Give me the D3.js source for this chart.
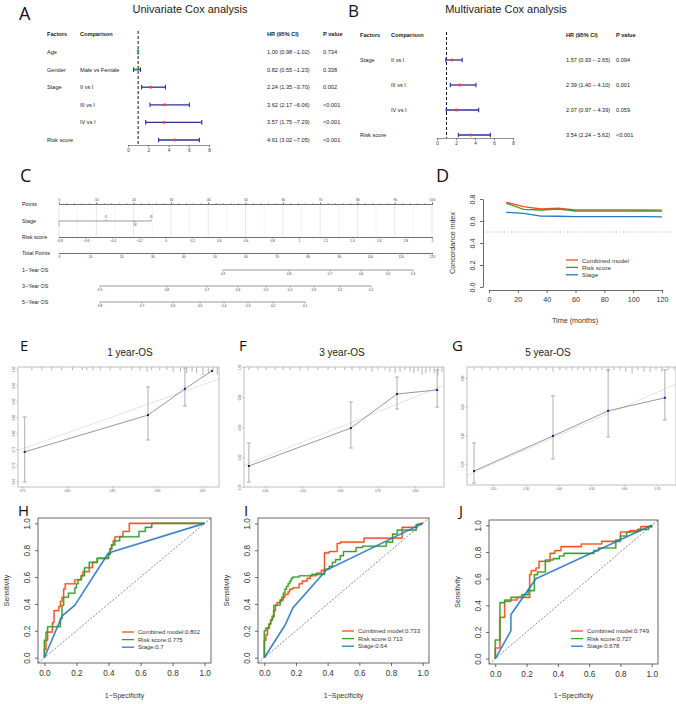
<!DOCTYPE html>
<html>
<head>
<meta charset="utf-8">
<script src="https://cdn.jsdelivr.net/npm/d3@7/dist/d3.min.js"></script>
<style>
html,body{margin:0;padding:0;background:#fff;}
svg{display:block;font-family:"Liberation Sans",Arial,Helvetica,sans-serif;}
</style>
</head>
<body>
<svg id="fig" width="676" height="704"></svg>
<script>
// ================= DATA =================
// Panel A: univariate Cox
const uniFactors = ["Age","Gender","Stage","","","Risk score"];
const uniComparisons = ["","Male vs Female","II vs I","III vs I","IV vs I",""];
const uniHR = [1.00,0.82,2.24,3.62,3.57,4.61];
const uniLower = [0.98,0.55,1.35,2.17,1.75,3.02];
const uniUpper = [1.02,1.23,3.70,6.06,7.29,7.05];
const uniP = ["0.734","0.338","0.002","<0.001","<0.001","<0.001"];
const uniGroup = ["clinical","clinical","other","other","other","other"];
// Panel B: multivariate Cox
const multiFactors = ["Stage","","","Risk score"];
const multiComparisons = ["II vs I","III vs I","IV vs I",""];
const multiHR = [1.57,2.39,2.07,3.54];
const multiLower = [0.93,1.40,0.97,2.24];
const multiUpper = [2.65,4.10,4.39,5.62];
const multiP = ["0.094","0.001","0.059","<0.001"];
const multiGroup = ["other","other","other","other"];
const forestTicks = [0,2,4,6,8];
// Panel C: nomogram
const nomoRows = ["Points","Stage","Risk score","Total Points","1\u2212Year OS","3\u2212Year OS","5\u2212Year OS"];
const pointTicks = [0,10,20,30,40,50,60,70,80,90,100];
const stageLevels = ["I","II","III","IV"];
const stagePoints = [0,12.6,24.7,20.4];
const riskTicks = [-0.8,-0.6,-0.4,-0.2,0,0.2,0.4,0.6,0.8,1,1.2,1.4,1.6,1.8,2];
const totalTicks = [0,10,20,30,40,50,60,70,80,90,100,110,120];
const os1Probs = [0.9,0.8,0.7,0.6,0.5,0.4];
const os1Total = [52.8,74.0,87.2,97.2,105.9,113.9];
const os3Probs = [0.9,0.8,0.7,0.6,0.5,0.4,0.3,0.2,0.1];
const os3Total = [13.2,34.7,47.6,57.6,66.6,74.3,82.0,90.4,100.4];
const os5Probs = [0.8,0.7,0.6,0.5,0.4,0.3,0.2,0.1];
const os5Total = [13.2,26.7,36.7,45.4,53.1,60.8,68.9,79.2];
// Panel D: time-dependent C-index
const cTimes = [12,24,36,48,60,72,84,96,108,120];
const cIdxCombined = [0.770,0.730,0.709,0.716,0.700,0.700,0.700,0.700,0.700,0.698];
const cIdxRisk = [0.761,0.706,0.700,0.708,0.691,0.690,0.690,0.690,0.692,0.690];
const cIdxStage = [0.679,0.670,0.645,0.643,0.639,0.639,0.639,0.639,0.639,0.638];
const dTicksX = [0,20,40,60,80,100,120];
const dTicksY = [0,0.2,0.4,0.6,0.8];
const modelNames = ["Combined model","Risk score","Stage"];
// Panels E-G: calibration
const cal1Pred = [0.753,0.890,0.931,0.961];
const cal1Obs  = [0.741,0.856,0.938,0.994];
const cal1Lo   = [0.647,0.778,0.884,0.994];
const cal1Hi   = [0.850,0.944,1.003,0.994];
const cal1Rug  = [0.761,0.772,0.783,0.794,0.806,0.817,0.822,0.829,0.837,0.848,0.859,0.872,0.881,0.889,0.894,0.903,0.911,0.918,0.926,0.933,0.939,0.944,0.951,0.957,0.962,0.967];
const cal1RugN = [1,1,1,1,1,1,1,1,1,1,1,1,1,2,1,1,1,2,2,3,2,3,4,3,2,4];
const cal1TicksX = [0.75,0.80,0.85,0.90,0.95];
const cal1TicksY = [0.65,0.70,0.75,0.80,0.85,0.90,0.95,1.00];
const cal3Pred = [0.357,0.629,0.752,0.859];
const cal3Obs  = [0.340,0.593,0.820,0.847];
const cal3Lo   = [0.233,0.460,0.720,0.733];
const cal3Hi   = [0.493,0.767,0.933,0.980];
const cal3Rug  = [0.357,0.381,0.403,0.427,0.448,0.467,0.493,0.515,0.541,0.568,0.587,0.613,0.632,0.653,0.669,0.685,0.701,0.720,0.733,0.747,0.760,0.773,0.787,0.797,0.808,0.819,0.829,0.840,0.851,0.861,0.872];
const cal3RugN = [1,1,1,1,1,1,1,1,1,1,1,1,1,1,1,2,1,1,2,3,2,1,2,3,2,4,3,2,3,4,2];
const cal3TicksX = [0.4,0.5,0.6,0.7,0.8];
const cal3TicksY = [0.2,0.4,0.6,0.8,1.0];
const cal5Pred = [0.142,0.383,0.551,0.724];
const cal5Obs  = [0.151,0.396,0.571,0.662];
const cal5Lo   = [0.067,0.235,0.389,0.508];
const cal5Hi   = [0.347,0.676,0.857,0.857];
const cal5Rug  = [0.142,0.166,0.191,0.215,0.240,0.264,0.288,0.313,0.337,0.362,0.383,0.404,0.423,0.441,0.459,0.477,0.496,0.514,0.532,0.551,0.569,0.587,0.605,0.624,0.642,0.660,0.679,0.697,0.715,0.734,0.752];
const cal5RugN = [1,1,1,1,1,1,1,1,1,1,2,1,1,1,1,1,2,1,1,2,1,1,2,3,1,2,2,1,2,1,1];
const cal5TicksX = [0.2,0.3,0.4,0.5,0.6,0.7];
const cal5TicksY = [0.2,0.4,0.6,0.8];
// Panels H-J: ROC curves (FPR, TPR vertices)
const rocTicks = [0,0.2,0.4,0.6,0.8,1.0];
const rocH_combined = [[0,0],[0,0.06],[0.01,0.06],[0.01,0.13],[0.02,0.13],[0.02,0.19],[0.05,0.19],[0.05,0.26],[0.06,0.26],[0.06,0.35],[0.09,0.35],[0.09,0.38],[0.10,0.38],[0.10,0.42],[0.11,0.42],[0.11,0.45],[0.12,0.45],[0.12,0.51],[0.13,0.51],[0.13,0.55],[0.19,0.55],[0.19,0.58],[0.23,0.58],[0.23,0.61],[0.24,0.61],[0.24,0.64],[0.28,0.64],[0.28,0.67],[0.30,0.67],[0.30,0.71],[0.33,0.71],[0.33,0.74],[0.40,0.74],[0.40,0.77],[0.41,0.77],[0.41,0.81],[0.42,0.81],[0.42,0.84],[0.43,0.84],[0.43,0.87],[0.44,0.87],[0.44,0.90],[0.49,0.90],[0.49,0.94],[0.53,0.94],[0.53,1],[1,1]];
const rocH_risk = [[0,0],[0,0.13],[0.01,0.13],[0.01,0.19],[0.02,0.19],[0.02,0.23],[0.10,0.23],[0.10,0.29],[0.11,0.29],[0.11,0.39],[0.12,0.39],[0.12,0.45],[0.15,0.45],[0.15,0.48],[0.19,0.48],[0.19,0.52],[0.20,0.52],[0.20,0.55],[0.21,0.55],[0.21,0.58],[0.23,0.58],[0.23,0.61],[0.25,0.61],[0.25,0.67],[0.28,0.67],[0.28,0.71],[0.33,0.71],[0.33,0.74],[0.40,0.74],[0.40,0.77],[0.41,0.77],[0.41,0.81],[0.42,0.81],[0.42,0.84],[0.44,0.84],[0.44,0.87],[0.47,0.87],[0.47,0.90],[0.59,0.90],[0.59,0.94],[0.63,0.94],[0.63,0.97],[0.67,0.97],[0.67,1],[1,1]];
const rocH_stage = [[0,0],[0.11,0.31],[0.19,0.39],[0.40,0.78],[1,1]];
const rocI_combined = [[0,0],[0,0.13],[0.01,0.13],[0.01,0.17],[0.02,0.17],[0.02,0.22],[0.03,0.22],[0.03,0.25],[0.04,0.25],[0.04,0.28],[0.05,0.28],[0.05,0.31],[0.06,0.31],[0.06,0.35],[0.07,0.35],[0.07,0.39],[0.08,0.39],[0.08,0.41],[0.10,0.41],[0.10,0.43],[0.12,0.43],[0.12,0.45],[0.13,0.45],[0.13,0.47],[0.15,0.47],[0.15,0.49],[0.16,0.49],[0.16,0.51],[0.18,0.51],[0.18,0.52],[0.22,0.52],[0.22,0.55],[0.24,0.55],[0.24,0.57],[0.27,0.57],[0.27,0.59],[0.29,0.59],[0.29,0.61],[0.33,0.61],[0.33,0.63],[0.36,0.63],[0.36,0.65],[0.38,0.65],[0.38,0.78],[0.41,0.78],[0.41,0.79],[0.46,0.79],[0.46,0.85],[0.48,0.85],[0.48,0.86],[0.63,0.86],[0.63,0.89],[0.87,0.89],[0.87,0.97],[0.96,0.97],[0.96,0.99],[1,1]];
const rocI_risk = [[0,0],[0,0.20],[0.01,0.20],[0.01,0.22],[0.03,0.22],[0.03,0.25],[0.04,0.25],[0.04,0.28],[0.05,0.28],[0.05,0.30],[0.06,0.30],[0.06,0.39],[0.10,0.39],[0.10,0.42],[0.11,0.42],[0.11,0.45],[0.12,0.45],[0.12,0.48],[0.13,0.48],[0.13,0.51],[0.14,0.51],[0.14,0.53],[0.15,0.53],[0.15,0.55],[0.16,0.55],[0.16,0.57],[0.17,0.57],[0.17,0.59],[0.18,0.59],[0.18,0.60],[0.22,0.60],[0.22,0.61],[0.30,0.61],[0.30,0.62],[0.38,0.62],[0.38,0.66],[0.41,0.66],[0.41,0.68],[0.43,0.68],[0.43,0.71],[0.45,0.71],[0.45,0.73],[0.48,0.73],[0.48,0.76],[0.50,0.76],[0.50,0.79],[0.58,0.79],[0.58,0.82],[0.62,0.82],[0.62,0.83],[0.77,0.83],[0.77,0.86],[0.81,0.86],[0.81,0.92],[0.84,0.92],[0.84,0.95],[0.96,0.95],[0.96,0.99],[1,1]];
const rocI_stage = [[0,0],[0.13,0.24],[0.18,0.37],[0.39,0.65],[1,1]];
const rocJ_combined = [[0,0],[0,0.08],[0.03,0.08],[0.03,0.31],[0.06,0.31],[0.06,0.43],[0.10,0.43],[0.10,0.44],[0.14,0.44],[0.14,0.46],[0.22,0.46],[0.22,0.63],[0.23,0.63],[0.23,0.66],[0.26,0.66],[0.26,0.68],[0.28,0.68],[0.28,0.73],[0.35,0.73],[0.35,0.79],[0.38,0.79],[0.38,0.81],[0.42,0.81],[0.42,0.84],[0.55,0.84],[0.55,0.86],[0.68,0.86],[0.68,0.88],[0.80,0.88],[0.80,0.95],[0.86,0.95],[0.86,0.96],[0.93,0.96],[0.93,0.99],[1,0.99],[1,1]];
const rocJ_risk = [[0,0],[0,0.14],[0.03,0.14],[0.03,0.42],[0.06,0.42],[0.06,0.44],[0.10,0.44],[0.10,0.46],[0.17,0.46],[0.17,0.48],[0.21,0.48],[0.21,0.51],[0.25,0.51],[0.25,0.63],[0.27,0.63],[0.27,0.65],[0.32,0.65],[0.32,0.74],[0.37,0.74],[0.37,0.75],[0.41,0.75],[0.41,0.77],[0.44,0.77],[0.44,0.79],[0.63,0.79],[0.63,0.81],[0.66,0.81],[0.66,0.83],[0.77,0.83],[0.77,0.89],[0.80,0.89],[0.80,0.92],[0.84,0.92],[0.84,0.95],[0.91,0.95],[0.91,0.97],[0.98,0.97],[0.98,0.99],[1,0.99],[1,1]];
const rocJ_stage = [[0,0],[0.10,0.21],[0.10,0.33],[0.26,0.60],[1,1]];
const aucH = ["0.802","0.775","0.7"];
const aucI = ["0.733","0.713","0.64"];
const aucJ = ["0.749","0.727","0.678"];

// ================= STYLE =================
const RED = "#F4511E", GREEN = "#3A9B2E", BLUE = "#2A78C2";
const lineColors = [RED, GREEN, BLUE];
const svg = d3.select("#fig");

function txt(g, x, y, s, opt = {}) {
  const t = g.append("text").attr("x", x).attr("y", y).text(s)
    .attr("font-size", opt.size || 6).attr("fill", opt.fill || "#222");
  if (opt.anchor) t.attr("text-anchor", opt.anchor);
  if (opt.weight) t.attr("font-weight", opt.weight);
  if (opt.mid) t.attr("dominant-baseline", "central");
  if (opt.family) t.attr("font-family", opt.family);
  return t;
}
function panelLabel(s, x, y, size) {
  txt(svg, x, y, s, {size: size, fill: "#111", family: "'Open Sans','Liberation Sans',sans-serif"});
}

// ================= A / B forest =================
function forest(o) {
  const g = svg.append("g");
  const x = d3.scaleLinear([0, 8], [o.x0, o.x1]);
  const y = d3.scaleLinear([0, o.hr.length - 1], [o.y0, o.y1]);
  const fs = 5.6;
  [[o.cF, "Factors"], [o.cC, "Comparison"], [o.cH, "HR (95% CI)"], [o.cP, "P value"]]
    .forEach(([cx, t]) => txt(g, cx, o.hy, t, {size: fs, weight: "bold", mid: true}));
  g.append("line").attr("x1", x(1)).attr("x2", x(1)).attr("y1", o.hy - 3).attr("y2", o.axY)
    .attr("stroke", "#111").attr("stroke-width", 1).attr("stroke-dasharray", "3,2");
  o.hr.forEach((h, i) => {
    const yy = y(i);
    txt(g, o.cF, yy, o.factors[i], {size: fs, mid: true});
    txt(g, o.cC, yy, o.comps[i], {size: fs, mid: true});
    txt(g, o.cH, yy, `${h.toFixed(2)} (${o.lo[i].toFixed(2)}${o.sep}${o.hi[i].toFixed(2)})`, {size: fs, mid: true});
    txt(g, o.cP, yy, o.p[i], {size: fs, mid: true});
    g.append("line").attr("x1", x(o.lo[i])).attr("x2", x(o.hi[i])).attr("y1", yy).attr("y2", yy)
      .attr("stroke", "#2B2F9E").attr("stroke-width", 1.3);
    [o.lo[i], o.hi[i]].forEach(v => g.append("line").attr("x1", x(v)).attr("x2", x(v))
      .attr("y1", yy - 2.3).attr("y2", yy + 2.3).attr("stroke", "#2B2F9E").attr("stroke-width", 1.1));
    g.append("rect").attr("x", x(h) - 1.3).attr("y", yy - 1.3).attr("width", 2.6).attr("height", 2.6)
      .attr("fill", o.grp[i] === "clinical" ? "#2FCB4A" : "#FF3B2A");
  });
  const ax = d3.axisBottom(x).tickValues(forestTicks).tickSize(2).tickSizeOuter(0).tickPadding(2);
  const ag = g.append("g").attr("transform", `translate(0,${o.axY})`).call(ax);
  ag.select(".domain").attr("stroke", "#777").attr("stroke-width", 0.8);
  ag.selectAll(".tick line").attr("stroke", "#777");
  ag.selectAll("text").attr("font-size", 4.6).attr("fill", "#333").attr("font-family", "inherit");
}
panelLabel("A", 19, 20, 18);
txt(svg, 190, 13, "Univariate Cox analysis", {size: 11, anchor: "middle", fill: "#222"});
forest({x0: 128, x1: 209, y0: 52, y1: 140, hy: 34, axY: 145, cF: 47, cC: 80, cH: 267, cP: 323,
  hr: uniHR, lo: uniLower, hi: uniUpper, p: uniP, factors: uniFactors, comps: uniComparisons, grp: uniGroup, sep: " \u2013"});
panelLabel("B", 348, 17, 17);
txt(svg, 506, 13, "Multivariate Cox analysis", {size: 11, anchor: "middle", fill: "#222"});
forest({x0: 437, x1: 513, y0: 60, y1: 135, hy: 35, axY: 138, cF: 360, cC: 391, cH: 566, cP: 616,
  hr: multiHR, lo: multiLower, hi: multiUpper, p: multiP, factors: multiFactors, comps: multiComparisons, grp: multiGroup, sep: " \u2013 "});

// ================= C nomogram =================
(function () {
  panelLabel("C", 20, 182, 18);
  const g = svg.append("g");
  const L = 59, R = 432;
  const xP = d3.scaleLinear([0, 100], [L, R]);
  const xRisk = d3.scaleLinear([-0.8, 2], [L, R]);
  const xTot = d3.scaleLinear([0, 120], [L, R]);
  const rowY = [204, 221, 237, 253, 270, 286, 302];
  nomoRows.forEach((r, i) => txt(g, 22, rowY[i] + (i === 0 ? 0 : 0), r, {size: 5.4, mid: true, fill: "#222"}));
  // grid lines
  d3.range(0, 101, 5).forEach(v => g.append("line").attr("x1", xP(v)).attr("x2", xP(v))
    .attr("y1", rowY[0]).attr("y2", rowY[2]).attr("stroke", v % 10 === 0 ? "#d6d6d6" : "#ececec").attr("stroke-width", 0.6));
  function styleAxis(ag) {
    ag.select(".domain").attr("stroke", "#555").attr("stroke-width", 0.6);
    ag.selectAll(".tick line").attr("stroke", "#555").attr("stroke-width", 0.5);
    ag.selectAll("text").attr("font-size", 3.2).attr("fill", "#333").attr("font-family", "inherit");
  }
  // Points
  let ag = g.append("g").attr("transform", `translate(0,${rowY[0]})`)
    .call(d3.axisTop(xP).tickValues(pointTicks).tickSize(2).tickSizeOuter(0).tickPadding(1.5));
  styleAxis(ag);
  ag = g.append("g").attr("transform", `translate(0,${rowY[0]})`)
    .call(d3.axisTop(xP).tickValues(d3.range(0, 101, 2)).tickSize(1).tickFormat(""));
  styleAxis(ag);
  // Stage
  const sy = rowY[1];
  g.append("line").attr("x1", xP(d3.min(stagePoints))).attr("x2", xP(d3.max(stagePoints)))
    .attr("y1", sy).attr("y2", sy).attr("stroke", "#555").attr("stroke-width", 0.6);
  stagePoints.forEach((p, i) => {
    const up = (i === 1 || i === 2);
    g.append("line").attr("x1", xP(p)).attr("x2", xP(p)).attr("y1", sy).attr("y2", up ? sy - 1.5 : sy + 1.5)
      .attr("stroke", "#555").attr("stroke-width", 0.5);
    txt(g, xP(p), up ? sy - 3 : sy + 5.2, stageLevels[i], {size: 3.4, anchor: "middle", fill: "#333"});
  });
  // Risk score
  ag = g.append("g").attr("transform", `translate(0,${rowY[2]})`)
    .call(d3.axisBottom(xRisk).tickValues(riskTicks).tickSize(1.5).tickSizeOuter(0).tickPadding(1.5).tickFormat(d => d3.format("")(+d.toFixed(1))));
  styleAxis(ag);
  ag = g.append("g").attr("transform", `translate(0,${rowY[2]})`)
    .call(d3.axisBottom(xRisk).tickValues(d3.range(-0.8, 2.001, 0.1)).tickSize(1).tickFormat(""));
  styleAxis(ag);
  // Total points
  ag = g.append("g").attr("transform", `translate(0,${rowY[3]})`)
    .call(d3.axisBottom(xTot).tickValues(totalTicks).tickSize(1.5).tickSizeOuter(0).tickPadding(1.5));
  styleAxis(ag);
  ag = g.append("g").attr("transform", `translate(0,${rowY[3]})`)
    .call(d3.axisBottom(xTot).tickValues(d3.range(0, 121, 2)).tickSize(1).tickFormat(""));
  styleAxis(ag);
  // OS rows
  [[os1Probs, os1Total], [os3Probs, os3Total], [os5Probs, os5Total]].forEach(([pr, tp], k) => {
    const yy = rowY[4 + k];
    g.append("line").attr("x1", xTot(d3.min(tp))).attr("x2", xTot(d3.max(tp))).attr("y1", yy).attr("y2", yy)
      .attr("stroke", "#555").attr("stroke-width", 0.6);
    tp.forEach((t, i) => {
      g.append("line").attr("x1", xTot(t)).attr("x2", xTot(t)).attr("y1", yy).attr("y2", yy + 1.5)
        .attr("stroke", "#555").attr("stroke-width", 0.5);
      txt(g, xTot(t), yy + 5.2, pr[i].toFixed(1), {size: 3.2, anchor: "middle", fill: "#333"});
    });
  });
})();

// ================= D C-index =================
(function () {
  panelLabel("D", 436, 182, 18);
  const g = svg.append("g");
  const x = d3.scaleLinear([0, 120], [489, 662]);
  const y = d3.scaleLinear([0, 0.8], [287, 199]);
  g.append("line").attr("x1", 483).attr("x2", 670).attr("y1", y(0.5)).attr("y2", y(0.5))
    .attr("stroke", "#aaa").attr("stroke-width", 1).attr("stroke-dasharray", "1,2.5");
  [cIdxCombined, cIdxRisk, cIdxStage].forEach((vals, k) => {
    const line = d3.line().x((d, i) => x(cTimes[i])).y(d => y(d));
    g.append("path").datum(vals).attr("d", line).attr("fill", "none")
      .attr("stroke", lineColors[k]).attr("stroke-width", 1.3);
  });
  const xa = g.append("g").attr("transform", "translate(0,290)")
    .call(d3.axisBottom(x).tickValues(dTicksX).tickSize(3).tickSizeOuter(0).tickPadding(4));
  const ya = g.append("g").attr("transform", "translate(483,0)")
    .call(d3.axisLeft(y).tickValues(dTicksY).tickSize(3).tickSizeOuter(0).tickFormat(d3.format(".1f")));
  [xa, ya].forEach(a => {
    a.select(".domain").attr("stroke", "#444").attr("stroke-width", 0.8);
    a.selectAll(".tick line").attr("stroke", "#444").attr("stroke-width", 0.8);
    a.selectAll("text").attr("font-size", 7.2).attr("fill", "#333").attr("font-family", "inherit");
  });
  ya.selectAll("text").attr("x", 0).attr("dy", 0).attr("text-anchor", "middle").attr("transform", "translate(-8,0) rotate(-90)");
  txt(g, 575, 323, "Time (months)", {size: 7.2, anchor: "middle", fill: "#333"});
  txt(g, 0, 0, "Concordance index", {size: 7.2, anchor: "middle", fill: "#333"}).attr("transform", "translate(455,243) rotate(-90)");
  modelNames.forEach((n, k) => {
    const ly = 260 + k * 7.4;
    g.append("line").attr("x1", 566).attr("x2", 578).attr("y1", ly).attr("y2", ly).attr("stroke", lineColors[k]).attr("stroke-width", 1.3);
    txt(g, 582, ly, n, {size: 6.2, mid: true, fill: "#333"});
  });
})();

// ================= E-G calibration =================
function calib(o) {
  const g = svg.append("g");
  panelLabel(o.label, o.lx, 351, 15);
  txt(g, o.tx, 356, o.title, {size: 10, anchor: "middle", fill: "#222"});
  const x = d3.scaleLinear(o.xd, o.xr), y = d3.scaleLinear(o.yd, o.yr);
  const F = o.frame;
  const cid = "clip" + o.label;
  g.append("clipPath").attr("id", cid).append("rect").attr("x", F.l).attr("y", F.t).attr("width", F.r - F.l).attr("height", F.b - F.t);
  const inner = g.append("g").attr("clip-path", `url(#${cid})`);
  const lo = Math.min(o.xd[0], o.yd[0]) - 1, hi = Math.max(o.xd[1], o.yd[1]) + 1;
  inner.append("line").attr("x1", x(lo)).attr("y1", y(lo)).attr("x2", x(hi)).attr("y2", y(hi))
    .attr("stroke", "#e4e4e4").attr("stroke-width", 1);
  o.rug.forEach((v, i) => inner.append("line").attr("x1", x(v)).attr("x2", x(v)).attr("y1", F.t)
    .attr("y2", F.t + 1.5 + o.rugN[i] * 1.6).attr("stroke", "#666").attr("stroke-width", 0.5));
  o.pred.forEach((p, i) => {
    if (o.hi[i] > o.lo[i]) {
      inner.append("line").attr("x1", x(p)).attr("x2", x(p)).attr("y1", y(o.lo[i])).attr("y2", y(o.hi[i]))
        .attr("stroke", "#9a9a9a").attr("stroke-width", 0.8);
      [o.lo[i], o.hi[i]].forEach(v => inner.append("line").attr("x1", x(p) - 2).attr("x2", x(p) + 2)
        .attr("y1", y(v)).attr("y2", y(v)).attr("stroke", "#9a9a9a").attr("stroke-width", 0.8));
    }
  });
  inner.append("path").datum(o.pred).attr("fill", "none").attr("stroke", "#8a8a9a").attr("stroke-width", 0.9)
    .attr("d", d3.line().x(d => x(d)).y((d, i) => y(o.obs[i])));
  o.pred.forEach((p, i) => inner.append("rect").attr("x", x(p) - 1).attr("y", y(o.obs[i]) - 1)
    .attr("width", 2).attr("height", 2).attr("fill", "#1d1d8c"));
  g.append("rect").attr("x", F.l).attr("y", F.t).attr("width", F.r - F.l).attr("height", F.b - F.t)
    .attr("fill", "none").attr("stroke", "#b8b8b8").attr("stroke-width", 0.9);
  const xa = g.append("g").attr("transform", `translate(0,${F.b})`)
    .call(d3.axisBottom(x).tickValues(o.tx2).tickSize(1.5).tickPadding(1.5).tickFormat(d3.format(".2f")));
  const ya = g.append("g").attr("transform", `translate(${F.l},0)`)
    .call(d3.axisLeft(y).tickValues(o.ty).tickSize(1.5).tickFormat(d3.format(".2f")));
  [xa, ya].forEach(a => {
    a.select(".domain").remove();
    a.selectAll(".tick line").attr("stroke", "#888").attr("stroke-width", 0.5);
    a.selectAll("text").attr("font-size", 2.8).attr("fill", "#555").attr("font-family", "inherit");
  });
  ya.selectAll("text").attr("x", 0).attr("dy", 0).attr("text-anchor", "middle").attr("transform", "translate(-3,0) rotate(-90)");
}
calib({label: "E", lx: 20, title: "1 year-OS", tx: 130, frame: {l: 18, r: 219, t: 367, b: 487},
  xd: [0.75, 0.95], xr: [22, 202], yd: [0.65, 1.0], yr: [481, 369],
  pred: cal1Pred, obs: cal1Obs, lo: cal1Lo, hi: cal1Hi, rug: cal1Rug, rugN: cal1RugN, tx2: cal1TicksX, ty: cal1TicksY});
calib({label: "F", lx: 239, title: "3 year-OS", tx: 342, frame: {l: 244, r: 444, t: 367, b: 487},
  xd: [0.4, 0.8], xr: [265, 415], yd: [0.2, 1.0], yr: [487, 367],
  pred: cal3Pred, obs: cal3Obs, lo: cal3Lo, hi: cal3Hi, rug: cal3Rug, rugN: cal3RugN, tx2: cal3TicksX, ty: cal3TicksY});
calib({label: "G", lx: 452, title: "5 year-OS", tx: 548, frame: {l: 467, r: 676, t: 367, b: 485},
  xd: [0.2, 0.7], xr: [493, 657], yd: [0.2, 0.8], yr: [464, 378],
  pred: cal5Pred, obs: cal5Obs, lo: cal5Lo, hi: cal5Hi, rug: cal5Rug, rugN: cal5RugN, tx2: cal5TicksX, ty: cal5TicksY});

// ================= H-J ROC =================
function roc(o) {
  panelLabel(o.label, o.lx, 516, 15);
  const g = svg.append("g");
  const x = d3.scaleLinear([-0.04, 1.04], [o.l, o.r]);
  const y = d3.scaleLinear([-0.04, 1.04], [o.b, o.t]);
  g.append("line").attr("x1", x(-0.04)).attr("y1", y(-0.04)).attr("x2", x(1.04)).attr("y2", y(1.04))
    .attr("stroke", "#555").attr("stroke-width", 0.7).attr("stroke-dasharray", "2,1.6");
  const line = d3.line().x(d => x(d[0])).y(d => y(d[1]));
  o.curves.forEach((c, k) => {
    g.append("path").datum(c).attr("d", line).attr("fill", "none").attr("stroke", lineColors[k])
      .attr("stroke-width", 2.2).attr("stroke-opacity", 0.35).attr("stroke-linejoin", "round");
    g.append("path").datum(c).attr("d", line).attr("fill", "none").attr("stroke", lineColors[k])
      .attr("stroke-width", 1.1).attr("stroke-linejoin", "round");
  });
  g.append("rect").attr("x", o.l).attr("y", o.t).attr("width", o.r - o.l).attr("height", o.b - o.t)
    .attr("fill", "none").attr("stroke", "#444").attr("stroke-width", 0.8);
  const xa = g.append("g").attr("transform", `translate(0,${o.b})`)
    .call(d3.axisBottom(x).tickValues(rocTicks).tickSize(3).tickPadding(4).tickFormat(d3.format(".1f")));
  const ya = g.append("g").attr("transform", `translate(${o.l},0)`)
    .call(d3.axisLeft(y).tickValues(rocTicks).tickSize(3).tickFormat(d3.format(".1f")));
  [xa, ya].forEach(a => {
    a.select(".domain").remove();
    a.selectAll(".tick line").attr("stroke", "#444").attr("stroke-width", 0.8);
    a.selectAll("text").attr("font-size", 8.2).attr("fill", "#333").attr("font-family", "inherit");
  });
  ya.selectAll("text").attr("x", 0).attr("dy", 0).attr("text-anchor", "middle").attr("transform", "translate(-8,0) rotate(-90)");
  txt(g, (o.l + o.r) / 2, 698, "1\u2212Specificity", {size: 7, anchor: "middle", fill: "#333"});
  txt(g, 0, 0, "Sensitivity", {size: 7, anchor: "middle", fill: "#333"}).attr("transform", `translate(${o.l - 29},${(o.t + o.b) / 2}) rotate(-90)`);
  modelNames.forEach((n, k) => {
    const ly = o.legY + k * 7.6;
    g.append("line").attr("x1", o.legX).attr("x2", o.legX + 12).attr("y1", ly).attr("y2", ly)
      .attr("stroke", lineColors[k]).attr("stroke-width", 1.3);
    txt(g, o.legX + 16, ly, `${n}:${o.auc[k]}`, {size: 6, mid: true, fill: "#333"});
  });
}
roc({label: "H", lx: 18, l: 38, r: 211, t: 518, b: 663, legX: 122, legY: 632,
  curves: [rocH_combined, rocH_risk, rocH_stage], auc: aucH});
roc({label: "I", lx: 244, l: 258, r: 429, t: 518, b: 663, legX: 342, legY: 631,
  curves: [rocI_combined, rocI_risk, rocI_stage], auc: aucI});
roc({label: "J", lx: 459, l: 489, r: 658, t: 520, b: 664, legX: 571, legY: 631,
  curves: [rocJ_combined, rocJ_risk, rocJ_stage], auc: aucJ});
</script>
</body>
</html>
